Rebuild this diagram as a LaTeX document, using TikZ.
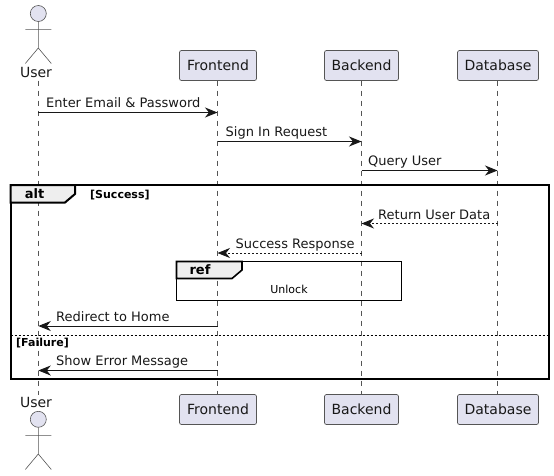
\documentclass[tikz,border=0pt]{standalone}
\usepackage{fontspec}
\setmainfont{DejaVu Sans}
\usetikzlibrary{arrows.meta}
\definecolor{partfill}{HTML}{E2E2F0}
\definecolor{partline}{HTML}{555555}
\definecolor{msgline}{HTML}{181818}
\definecolor{tabfill}{HTML}{EEEEEE}
\tikzset{
  x=1pt,y=-1pt,
  partbox/.style={draw=partline,line width=0.7pt,fill=partfill,rounded corners=2pt,minimum height=30pt,inner sep=0pt,font=\fontsize{14}{14}\selectfont,text=msgline},
  lifeline/.style={draw=partline,line width=0.6pt,dash pattern=on 5pt off 5pt},
  actorbody/.style={draw=partline,line width=0.6pt},
  actorhead/.style={circle,draw=partline,line width=0.6pt,fill=partfill,minimum size=16pt,inner sep=0pt},
  actorname/.style={inner sep=0pt,anchor=base,text=msgline,font=\fontsize{14}{14}\selectfont},
  msg/.style={draw=msgline,line width=0.9pt,-{Stealth[length=12.5pt,width=10pt,inset=4pt]}},
  reply/.style={msg,dash pattern=on 2pt off 2pt},
  msgtext/.style={inner sep=0pt,anchor=base west,text=msgline,font=\fontsize{13}{13}\selectfont},
  frameedge/.style={draw=black,line width=2pt},
  tabshape/.style={draw=black,line width=2pt,fill=tabfill},
  tabtext/.style={inner sep=0pt,anchor=base,font=\fontsize{13}{13}\selectfont\bfseries},
  guard/.style={inner sep=0pt,anchor=base west,font=\fontsize{11}{11}\selectfont\bfseries},
}
\begin{document}
\begin{tikzpicture}
\useasboundingbox (0,0) rectangle (554,475);
% lifeline ends
\coordinate (userTop) at (38.3,80.5);
\coordinate (userBot) at (38.3,394.5);
\coordinate (frontTop) at (217.5,80.5);
\coordinate (frontBot) at (217.5,394.5);
\coordinate (backTop) at (361.5,80.5);
\coordinate (backBot) at (361.5,394.5);
\coordinate (dataTop) at (497.5,80.5);
\coordinate (dataBot) at (497.5,394.5);
% lifelines
\draw[lifeline] (userTop) -- (userBot);
\draw[lifeline] (frontTop) -- (frontBot);
\draw[lifeline] (backTop) -- (backBot);
\draw[lifeline] (dataTop) -- (dataBot);
% participants
\node[partbox,minimum width=77pt] (frontA) at (218,65.5) {Frontend};
\node[partbox,minimum width=74pt] (backA) at (361.5,65.5) {Backend};
\node[partbox,minimum width=81pt] (dataA) at (498,65.5) {Database};
\node[partbox,minimum width=77pt] (frontB) at (218,409.5) {Frontend};
\node[partbox,minimum width=74pt] (backB) at (361.5,409.5) {Backend};
\node[partbox,minimum width=81pt] (dataB) at (498,409.5) {Database};
% actors
\node[actorname] (userA) at (36,77.5) {User};
\node[actorname] (userB) at (36,407) {User};
\node[actorhead] (headA) at (38.3,13.5) {};
\node[actorhead] (headB) at (38.3,419.3) {};
\draw[actorbody] (headA.south) -- (38.3,48) (25.3,29.3) -- (51.3,29.3) (25.3,63.5) -- (38.3,48) -- (51.3,63.5);
\draw[actorbody] (headB.south) -- (38.3,454) (25.3,435.3) -- (51.3,435.3) (25.3,469.5) -- (38.3,454) -- (51.3,469.5);
% message end points
\foreach \n/\y in {a/112.5,b/141.5,c/170.5,d/223.5,e/253,f/326,g/370.5}{
  \coordinate (user\n) at (38.3,\y);
  \coordinate (front\n) at (217.5,\y);
  \coordinate (back\n) at (361.5,\y);
  \coordinate (data\n) at (497.5,\y);
}
% frames
\draw[frameedge] (10.5,185) rectangle (548.5,378.5);
\draw[tabshape] (10.5,185) -- (75,185) -- (75,194) -- (65,202.5) -- (10.5,202.5) -- cycle;
\node[tabtext] (alt) at (34.5,198.5) {alt};
\node[guard] (succ) at (90,198) {[Success]};
\draw[draw=black,line width=0.7pt,dash pattern=on 2pt off 2pt] (10.5,335.3) -- (548.5,335.3);
\node[guard] (fail) at (16,346) {[Failure]};
\draw[frameedge,line width=1.6pt] (176.5,261.5) rectangle (401.5,300.5);
\draw[tabshape,line width=1.6pt] (176.5,261.5) -- (242,261.5) -- (242,270) -- (232,278.5) -- (176.5,278.5) -- cycle;
\node[tabtext] (ref) at (200,274.5) {ref};
\node[inner sep=0pt,anchor=base,font=\fontsize{11}{11}\selectfont] (unl) at (289,293) {Unlock};
% messages
\draw[msg] (usera) -- (fronta);
\node[msgtext] (ta) at (46,107) {Enter Email \& Password};
\draw[msg] (frontb) -- (backb);
\node[msgtext] (tb) at (225.5,136) {Sign In Request};
\draw[msg] (backc) -- (datac);
\node[msgtext] (tc) at (368,165) {Query User};
\draw[reply] (datad) -- (backd);
\node[msgtext] (td) at (378,219) {Return User Data};
\draw[reply] (backe) -- (fronte);
\node[msgtext] (te) at (235.5,248) {Success Response};
\draw[msg] (frontf) -- (userf);
\node[msgtext] (tf) at (56,321) {Redirect to Home};
\draw[msg] (frontg) -- (userg);
\node[msgtext] (tg) at (56,365) {Show Error Message};
\end{tikzpicture}
\end{document}
